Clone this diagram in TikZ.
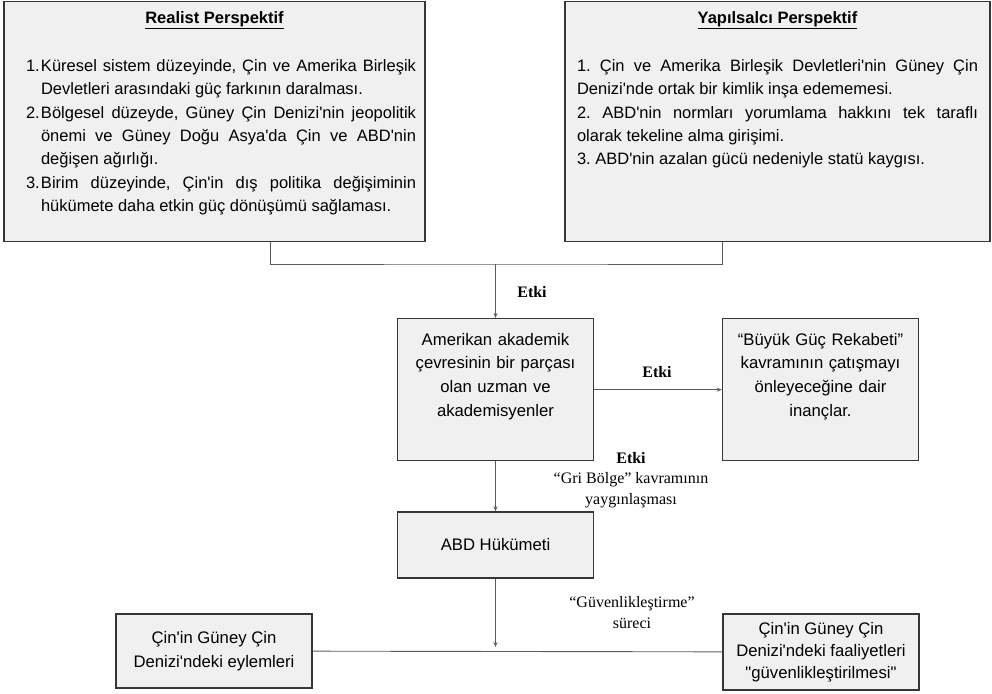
\documentclass[tikz,border=0pt]{standalone}
\usepackage{fontspec}
\setmainfont{Liberation Sans}[Ligatures=TeXOff]
\newfontfamily\timesfont{Liberation Serif}
\usetikzlibrary{arrows.meta}
\definecolor{boxfill}{HTML}{F0F0F0}
\definecolor{boxline}{HTML}{363636}
\definecolor{linkgray}{HTML}{5C5C5C}
\tikzset{
  box/.style={draw=boxline, fill=boxfill, line width=1.4pt},
  persp/.style={box, anchor=north, align=justify, inner ysep=9pt, text height=12.5pt, text depth=209.5pt, font=\fontsize{16.5}{23.4}\selectfont\frenchspacing},
  midbox/.style={box, anchor=north, align=center, text width=180pt, inner xsep=8pt, inner ysep=14pt, text height=12.5pt, text depth=101.5pt, font=\fontsize{16.7}{23.7}\selectfont},
  flatbox/.style={box, align=center, minimum width=196pt, inner sep=0pt, font=\fontsize{16.7}{24}\selectfont},
  link/.style={draw=linkgray, line width=0.9pt},
  arrow/.style={link, -{Stealth[length=5pt,width=4pt]}},
  etki/.style={font=\timesfont\bfseries\fontsize{16}{19}\selectfont},
  note/.style={align=center, font=\timesfont\fontsize{16}{21.5}\selectfont}
}
\begin{document}
\begin{tikzpicture}[x=1pt,y=-1pt]
\useasboundingbox (0,0) rectangle (992,693);
\node[persp, text width=421pt, inner xsep=0pt] (realist) at (214.5,1) {\parindent=0pt
{\centering\bfseries\underline{Realist Perspektif}\par}\vspace{24.6pt}
\leftskip=22pt\rightskip=9pt
\noindent\hangindent=15pt\hangafter=1\makebox[15pt][l]{1.}Küresel sistem düzeyinde, Çin ve Amerika Birleşik\linebreak Devletleri arasındaki güç farkının daralması.\par
\noindent\hangindent=15pt\hangafter=1\makebox[15pt][l]{2.}Bölgesel düzeyde, Güney Çin Denizi'nin jeopolitik\linebreak önemi ve Güney Doğu Asya'da Çin ve ABD'nin\linebreak değişen ağırlığı.\par
\noindent\hangindent=15pt\hangafter=1\makebox[15pt][l]{3.}Birim düzeyinde, Çin'in dış politika değişiminin\linebreak hükümete daha etkin güç dönüşümü sağlaması.\par};
\node[persp, text width=401pt, inner xsep=12pt] (yapi) at (777.5,1) {\parindent=0pt
{\centering\bfseries\underline{Yapılsalcı Perspektif}\par}\vspace{24.6pt}
\noindent 1. Çin ve Amerika Birleşik Devletleri'nin Güney Çin\linebreak Denizi'nde ortak bir kimlik inşa edememesi.\par
\noindent 2. ABD'nin normları yorumlama hakkını tek taraflı\linebreak olarak tekeline alma girişimi.\par
\noindent 3. ABD'nin azalan gücü nedeniyle statü kaygısı.\par};
\coordinate (join) at (495.5,264);
\draw[link] ([xshift=55.5pt]realist.south) |- (join) -| ([xshift=-55.5pt]yapi.south);
\node[midbox] (acad) at (495.5,318) {Amerikan akademik\\çevresinin bir parçası\\olan uzman ve\\akademisyenler};
\node[midbox] (buyuk) at (820.5,318) {“Büyük Güç Rekabeti”\\kavramının çatışmayı\\önleyeceğine dair\\inançlar.};
\node[flatbox, minimum height=66pt] (abd) at (495.5,545) {ABD Hükümeti};
\node[flatbox, minimum height=74pt] (eylem) at (214,651) {Çin'in Güney Çin\\Denizi'ndeki eylemleri};
\node[flatbox, minimum height=76pt, font=\fontsize{16.7}{22}\selectfont] (faal) at (821,652) {Çin'in Güney Çin\\Denizi'ndeki faaliyetleri\\"güvenlikleştirilmesi"};
\coordinate (tip) at (495.5,647);
\draw[arrow] (join) -- (acad);
\draw[arrow] (acad) -- (buyuk);
\draw[arrow] (acad) -- (abd);
\draw[arrow] (abd) -- (tip);
\draw[link] (eylem) -- (faal);
\node[etki] (etki1) at (532,292) {Etki};
\node[etki] (etki2) at (657,372) {Etki};
\node[etki] (etki3) at (631,458) {Etki};
\node[note] (gri) at (631,490) {“Gri Bölge” kavramının\\yaygınlaşması};
\node[note] (guven) at (632,612.5) {“Güvenlikleştirme”\\süreci};
\end{tikzpicture}
\end{document}
